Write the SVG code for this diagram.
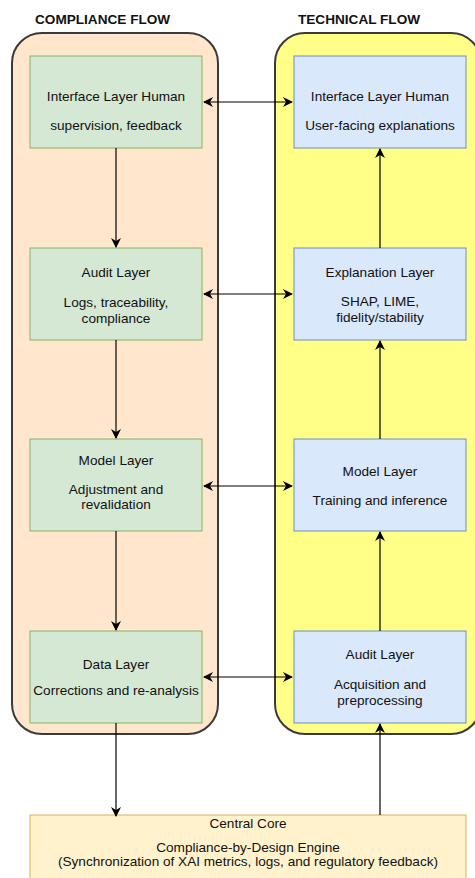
<svg xmlns="http://www.w3.org/2000/svg" width="475" height="878" viewBox="0 0 475 878">
<style>
text{font-family:"Liberation Sans",Arial,sans-serif;font-size:13.6px;fill:#111;text-anchor:middle}
.title{font-weight:bold;text-anchor:start}
.g{fill:#d5e8d4;stroke:#82b366;stroke-width:1}
.b{fill:#dae8fc;stroke:#6c8ebf;stroke-width:1}
.c{stroke:#000;stroke-width:1.2;fill:none}
</style>
<defs>
<marker id="ah" viewBox="0 0 10 10" refX="9" refY="5" markerWidth="10" markerHeight="10" markerUnits="userSpaceOnUse" orient="auto-start-reverse">
<path d="M0,0 L10,5 L0,10 L3,5 Z" fill="#000"/>
</marker>
</defs>
<rect width="475" height="878" fill="#fff"/>
<g id="titles">
<text class="title" x="35" y="24">COMPLIANCE FLOW</text>
<text class="title" x="298" y="24">TECHNICAL FLOW</text>
</g>
<g id="compliance-flow"><rect x="12" y="33" width="206" height="701" rx="30" fill="#ffe6cc" stroke="#3a3a3a" stroke-width="2"/></g>
<g id="technical-flow"><rect x="275" y="33" width="206" height="701" rx="30" fill="#ffff88" stroke="#3a3a3a" stroke-width="2"/></g>
<g id="c-interface"><rect class="g" x="30" y="56" width="172" height="92"/><text x="116" y="101">Interface Layer Human</text><text x="116" y="130">supervision, feedback</text></g>
<g id="c-audit"><rect class="g" x="30" y="248" width="172" height="92"/><text x="116" y="277">Audit Layer</text><text x="116" y="307">Logs, traceability,</text><text x="116" y="323">compliance</text></g>
<g id="c-model"><rect class="g" x="30" y="439" width="172" height="92"/><text x="116" y="465">Model Layer</text><text x="116" y="494">Adjustment and</text><text x="116" y="509">revalidation</text></g>
<g id="c-data"><rect class="g" x="30" y="631" width="172" height="92"/><text x="116" y="669">Data Layer</text><text x="116" y="695">Corrections and re-analysis</text></g>
<g id="t-interface"><rect class="b" x="294" y="56" width="172" height="92"/><text x="380" y="101">Interface Layer Human</text><text x="380" y="130">User-facing explanations</text></g>
<g id="t-explanation"><rect class="b" x="294" y="248" width="172" height="92"/><text x="380" y="277">Explanation Layer</text><text x="380" y="306">SHAP, LIME,</text><text x="380" y="322">fidelity/stability</text></g>
<g id="t-model"><rect class="b" x="294" y="439" width="172" height="92"/><text x="380" y="476">Model Layer</text><text x="380" y="505">Training and inference</text></g>
<g id="t-audit"><rect class="b" x="294" y="631" width="172" height="92"/><text x="380" y="659">Audit Layer</text><text x="380" y="689">Acquisition and</text><text x="380" y="705">preprocessing</text></g>
<g id="core"><rect x="30" y="815" width="436" height="80" fill="#fff2cc" stroke="#d6b656" stroke-width="1"/><text x="248" y="828">Central Core</text><text x="248" y="852">Compliance-by-Design Engine</text><text x="248" y="866">(Synchronization of XAI metrics, logs, and regulatory feedback)</text></g>
<g id="connectors">
<line class="c" x1="204" y1="102" x2="292" y2="102" marker-start="url(#ah)" marker-end="url(#ah)"/>
<line class="c" x1="204" y1="294" x2="292" y2="294" marker-start="url(#ah)" marker-end="url(#ah)"/>
<line class="c" x1="204" y1="486" x2="292" y2="486" marker-start="url(#ah)" marker-end="url(#ah)"/>
<line class="c" x1="204" y1="677" x2="292" y2="677" marker-start="url(#ah)" marker-end="url(#ah)"/>
<line class="c" x1="116" y1="148" x2="116" y2="247" marker-end="url(#ah)"/>
<line class="c" x1="116" y1="340" x2="116" y2="438" marker-end="url(#ah)"/>
<line class="c" x1="116" y1="531" x2="116" y2="630" marker-end="url(#ah)"/>
<line class="c" x1="116" y1="723" x2="116" y2="816" marker-end="url(#ah)"/>
<line class="c" x1="380" y1="815" x2="380" y2="724" marker-end="url(#ah)"/>
<line class="c" x1="380" y1="631" x2="380" y2="532" marker-end="url(#ah)"/>
<line class="c" x1="380" y1="439" x2="380" y2="341" marker-end="url(#ah)"/>
<line class="c" x1="380" y1="248" x2="380" y2="149" marker-end="url(#ah)"/>
</g>
</svg>
